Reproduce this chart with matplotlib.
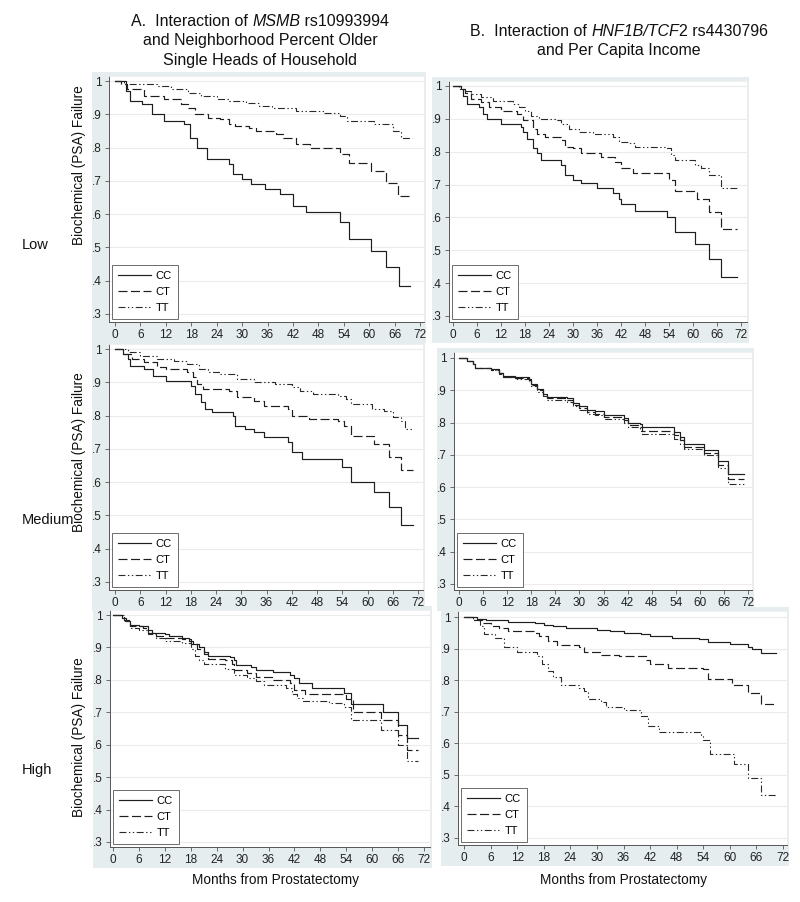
import matplotlib
matplotlib.use("Agg")
import matplotlib.pyplot as plt
from matplotlib.patches import Rectangle

plt.rcParams["font.family"] = ["Liberation Sans", "DejaVu Sans"]
plt.rcParams["lines.scale_dashes"] = False

# --- data: (months, survival) step points ---
genotypes = ["CC", "CT", "TT"]
month_ticks = list(range(0, 73, 6))
surv_ticks = [0.3, 0.4, 0.5, 0.6, 0.7, 0.8, 0.9, 1.0]
surv_labels = [".3", ".4", ".5", ".6", ".7", ".8", ".9", "1"]
row_labels = ["Low", "Medium", "High"]

# A: MSMB x older single heads of household
a_low_cc_t = [0, 2.5, 3.6, 6.4, 8.8, 11.6, 16.4, 17.6, 19.4, 21.6, 26.8, 27.8, 30, 32, 35.4, 39, 42, 45, 53.2, 55.2, 60.4, 64, 67, 69.6]
a_low_cc_s = [1, .97, .94, .93, .90, .88, .87, .83, .80, .765, .75, .72, .705, .69, .675, .66, .625, .605, .575, .525, .49, .44, .385, .385]
a_low_ct_t = [0, 1.5, 2.8, 6.8, 11.6, 15.6, 17.2, 18.8, 22, 24.8, 26.8, 28.4, 31.6, 33.2, 38, 39.6, 42.8, 46, 53.2, 55.2, 60.4, 64, 66.8, 69.8]
a_low_ct_s = [1, .99, .975, .955, .945, .93, .92, .90, .89, .885, .87, .865, .86, .85, .84, .83, .81, .80, .78, .755, .73, .695, .655, .655]
a_low_tt_t = [0, 2.2, 10, 13.2, 17.2, 20.4, 24, 27, 31, 34, 37, 42.8, 49, 53.2, 54.8, 61.2, 65.6, 67.6, 70]
a_low_tt_s = [1, .99, .985, .975, .965, .955, .945, .94, .935, .925, .92, .91, .905, .895, .88, .87, .85, .83, .83]

a_med_cc_t = [0, 2, 3, 3.5, 7, 9, 12, 18, 19, 20.5, 21.5, 23, 28, 28.5, 31, 33, 35.5, 41, 42, 44.5, 54, 56, 61.5, 65, 68, 70.8]
a_med_cc_s = [1, .985, .97, .95, .94, .92, .905, .89, .865, .84, .82, .81, .80, .77, .76, .75, .735, .72, .69, .67, .645, .60, .57, .525, .47, .47]
a_med_ct_t = [0, 2, 4, 7, 10, 12, 17, 18.5, 19.5, 21, 27, 29, 33, 35.5, 41, 42, 46, 53, 54.5, 56, 61.5, 65, 68, 70.8]
a_med_ct_s = [1, .985, .97, .96, .945, .94, .93, .915, .895, .88, .875, .855, .845, .83, .82, .80, .79, .785, .77, .74, .715, .675, .635, .635]
a_med_tt_t = [0, 3, 6, 10, 14, 17, 20, 22, 25, 29, 33, 38, 42, 44, 47, 53, 55, 56, 61, 64, 66, 68, 69, 70.8]
a_med_tt_s = [1, .99, .98, .97, .965, .955, .94, .93, .925, .91, .90, .895, .885, .875, .865, .86, .85, .835, .82, .815, .795, .785, .76, .76]

a_high_cc_t = [0, 2, 3, 4, 6, 8, 9, 12, 13, 16, 17.5, 18.5, 20, 21, 22, 27, 28, 28.5, 32, 33, 37, 41, 42, 43, 46, 53.5, 55, 62.5, 66, 68, 70.5]
a_high_cc_s = [1, .99, .98, .97, .965, .955, .945, .94, .935, .93, .92, .91, .90, .885, .875, .87, .86, .845, .84, .83, .825, .815, .805, .79, .775, .76, .725, .70, .66, .62, .62]
a_high_ct_t = [0, 2.5, 4, 7, 8, 10, 12, 16, 18, 19.5, 21, 22, 26, 27.5, 28, 31, 33, 37, 41, 42, 44.5, 54, 55.5, 62, 66, 68, 70.5]
a_high_ct_s = [1, .985, .965, .96, .945, .935, .93, .925, .91, .895, .88, .865, .86, .85, .83, .82, .81, .80, .79, .77, .755, .74, .70, .675, .63, .585, .585]
a_high_tt_t = [0, 2.5, 4, 6, 8, 10, 12, 16, 18, 19, 20, 21, 26, 28, 31, 33, 35, 40, 41.5, 42.5, 44, 50, 53.5, 55, 62, 66, 68, 70.5]
a_high_tt_s = [1, .98, .96, .955, .94, .93, .92, .915, .895, .875, .86, .85, .835, .815, .805, .795, .785, .775, .755, .745, .735, .73, .715, .675, .645, .60, .55, .55]

# B: HNF1B/TCF2 x per capita income
b_low_cc_t = [0, 2, 2.5, 3.5, 6.5, 7.5, 8.5, 12, 17, 17.5, 18.5, 20, 21, 22, 27, 28, 30, 32, 36, 40, 41.5, 42, 45.5, 53.5, 55.5, 60.5, 64, 67, 71]
b_low_cc_s = [1, .99, .97, .945, .935, .915, .90, .885, .875, .86, .84, .81, .795, .775, .76, .73, .715, .705, .69, .675, .655, .64, .62, .60, .555, .52, .475, .42, .42]
b_low_ct_t = [0, 2, 3, 4.5, 7, 9, 12, 16, 17.5, 20, 21, 23, 27, 28, 30, 32, 37, 40.5, 42, 45, 54, 55.5, 61, 64, 67, 71]
b_low_ct_s = [1, .99, .98, .96, .95, .935, .925, .915, .895, .87, .855, .845, .835, .815, .81, .795, .785, .77, .75, .735, .715, .68, .655, .615, .565, .565]
b_low_tt_t = [0, 1.5, 3, 4.5, 7, 10, 15, 16.5, 18, 19.5, 21.5, 25.5, 27, 29, 31.5, 35, 40, 41.5, 44, 45.5, 53.5, 54.5, 55.5, 60.5, 62, 64, 67, 71]
b_low_tt_s = [1, .99, .985, .975, .965, .955, .945, .935, .925, .91, .90, .895, .885, .87, .86, .855, .845, .83, .825, .815, .81, .79, .775, .76, .75, .73, .69, .69]

b_med_t = [0, 2, 3.5, 4, 8, 10, 11, 14, 17.5, 18, 19.5, 21, 22, 27, 28.5, 30, 32, 34, 36, 41, 42, 45, 45.5, 53.5, 55, 56, 61, 64.5, 67, 71]
b_med_cc_s = [1, .99, .98, .97, .965, .955, .945, .94, .935, .92, .905, .89, .88, .875, .86, .85, .84, .835, .825, .815, .80, .795, .785, .77, .755, .735, .715, .68, .64, .64]
b_med_ct_s = [1, .99, .98, .97, .963, .952, .942, .937, .932, .915, .90, .885, .875, .87, .855, .845, .833, .828, .818, .808, .793, .785, .775, .76, .745, .725, .705, .67, .625, .625]
b_med_tt_s = [1, .99, .98, .97, .962, .95, .94, .935, .93, .912, .895, .882, .87, .865, .85, .838, .828, .822, .812, .80, .785, .775, .765, .75, .735, .718, .70, .66, .61, .61]

b_high_cc_t = [0, 3, 5, 10, 16, 18, 20, 23, 30, 33, 36, 40, 42, 47, 53, 55, 60, 64, 65, 67, 70.5]
b_high_cc_s = [1, .995, .99, .985, .98, .975, .97, .965, .96, .955, .95, .945, .94, .935, .93, .92, .915, .905, .90, .885, .885]
b_high_ct_t = [0, 2, 4, 6, 8, 10, 16, 17, 19, 21, 26, 27, 31, 35, 41, 42, 46, 54, 55, 60.5, 64, 67, 70.5]
b_high_ct_s = [1, .99, .98, .97, .965, .955, .95, .94, .925, .91, .905, .89, .88, .875, .865, .85, .84, .835, .805, .785, .76, .725, .725]
b_high_tt_t = [0, 2, 3.5, 4.5, 7, 9, 12, 16.5, 17.5, 19, 20, 22, 26, 27, 28, 31, 32, 36, 40, 41.5, 44, 53.5, 54, 55.5, 61, 64, 67, 70.5]
b_high_tt_s = [1, .99, .97, .945, .935, .905, .89, .875, .85, .83, .81, .785, .775, .765, .74, .73, .715, .705, .685, .655, .635, .625, .61, .565, .535, .49, .435, .435]

# --- layout (pixels): x of month 0, x of month 72, y of 1, y of .3, axes box l/t/r/b
W, H = 800, 902
geoms = {
    "a_low": (115, 420, 81, 314, 109, 76, 424, 322),
    "a_med": (115, 418, 349, 582, 109, 344, 423, 590),
    "a_high": (113, 424, 615, 842, 110, 610, 430, 847),
    "b_low": (453, 741, 86, 316, 449, 81, 747, 322),
    "b_med": (459, 748, 358, 584, 454, 352, 752, 590),
    "b_high": (464, 783, 617, 838, 458, 611, 787, 845),
}
styles = [
    dict(linestyle="-", color="#1e1e1e", lw=0.85),
    dict(linestyle=(0, (6.5, 2.5)), color="#1e1e1e", lw=0.85),
    dict(linestyle=(0, (5, 1.8, 1, 1.8, 1, 1.8)), color="#2a2a2a", lw=0.8),
]
GRAY = "#e5edef"

fig = plt.figure(figsize=(W / 100, H / 100), dpi=100)


def fx(x):
    return x / W


def fy(y):
    return 1 - y / H


def panel(key, curves):
    x0, x72, y1, y03, left, top, right, bottom = geoms[key]
    ppm = (x72 - x0) / 72
    ppv = (y03 - y1) / 0.7
    fig.add_artist(Rectangle((fx(left - 17), fy(bottom + 21)), (right - left + 19) / W,
                             (bottom - top + 25) / H, transform=fig.transFigure,
                             facecolor=GRAY, edgecolor="none", zorder=-1))
    ax = fig.add_axes([fx(left), fy(bottom), (right - left) / W, (bottom - top) / H])
    ax.set_facecolor("white")
    for (t, s), st, g in zip(curves, styles, genotypes):
        ax.step(t, s, where="post", label=g, **st)
    ax.set_xlim((left - x0) / ppm, (right - x0) / ppm)
    ax.set_ylim(1 - (bottom - y1) / ppv, 1 + (y1 - top) / ppv)
    ax.set_xticks(month_ticks)
    ax.set_yticks(surv_ticks)
    ax.set_yticklabels(surv_labels)
    ax.grid(axis="y", color="#ececec", lw=0.8)
    ax.set_axisbelow(True)
    for side in ["top", "right"]:
        ax.spines[side].set_color("#eeeeee")
        ax.spines[side].set_linewidth(0.6)
    for side in ["left", "bottom"]:
        ax.spines[side].set_color("#555555")
        ax.spines[side].set_linewidth(0.7)
    ax.tick_params(length=3, width=0.6, color="#555555", labelsize=8.5, pad=2,
                   labelcolor="#222222")
    leg = ax.legend(loc="lower left", fontsize=8, handlelength=3.0, labelspacing=0.55,
                    borderaxespad=0.25, borderpad=0.55, handletextpad=0.4,
                    fancybox=False, framealpha=1, edgecolor="#555555")
    leg.get_frame().set_linewidth(0.6)
    return ax


panel("a_low", [(a_low_cc_t, a_low_cc_s), (a_low_ct_t, a_low_ct_s), (a_low_tt_t, a_low_tt_s)])
panel("a_med", [(a_med_cc_t, a_med_cc_s), (a_med_ct_t, a_med_ct_s), (a_med_tt_t, a_med_tt_s)])
panel("a_high", [(a_high_cc_t, a_high_cc_s), (a_high_ct_t, a_high_ct_s), (a_high_tt_t, a_high_tt_s)])
panel("b_low", [(b_low_cc_t, b_low_cc_s), (b_low_ct_t, b_low_ct_s), (b_low_tt_t, b_low_tt_s)])
panel("b_med", [(b_med_t, b_med_cc_s), (b_med_t, b_med_ct_s), (b_med_t, b_med_tt_s)])
panel("b_high", [(b_high_cc_t, b_high_cc_s), (b_high_ct_t, b_high_ct_s), (b_high_tt_t, b_high_tt_s)])

# titles: mixed upright / italic pieces laid out side by side, centred on x
renderer = fig.canvas.get_renderer()


def mixed_line(xc, y, pieces, size=11.5):
    arts = [fig.text(0, fy(y), txt, fontsize=size, fontstyle=("italic" if it else "normal"),
                     va="center", ha="left", color="#111111") for txt, it in pieces]
    widths = [a.get_window_extent(renderer).width for a in arts]
    x = xc - sum(widths) / 2
    for a, w in zip(arts, widths):
        a.set_x(fx(x))
        x += w


mixed_line(260, 22, [("A.  Interaction of ", False), ("MSMB", True), (" rs10993994", False)])
mixed_line(260, 41, [("and Neighborhood Percent Older", False)])
mixed_line(260, 60, [("Single Heads of Household", False)])
mixed_line(619, 31, [("B.  Interaction of ", False), ("HNF1B/TCF", True), ("2 rs4430796", False)])
mixed_line(619, 50, [("and Per Capita Income", False)])

# row labels and axis titles
for lab, y in zip(row_labels, [245, 520, 770]):
    fig.text(fx(22), fy(y), lab, ha="left", va="center", fontsize=10.5, color="#111111")
for y in [165, 452, 737]:
    fig.text(fx(79), fy(y), "Biochemical (PSA) Failure", rotation=90, ha="center",
             va="center", fontsize=9.8, color="#111111")
for x in [275, 623]:
    fig.text(fx(x), fy(880), "Months from Prostatectomy", ha="center", va="center",
             fontsize=9.8, color="#111111")

fig.savefig("out.png", dpi=100)
